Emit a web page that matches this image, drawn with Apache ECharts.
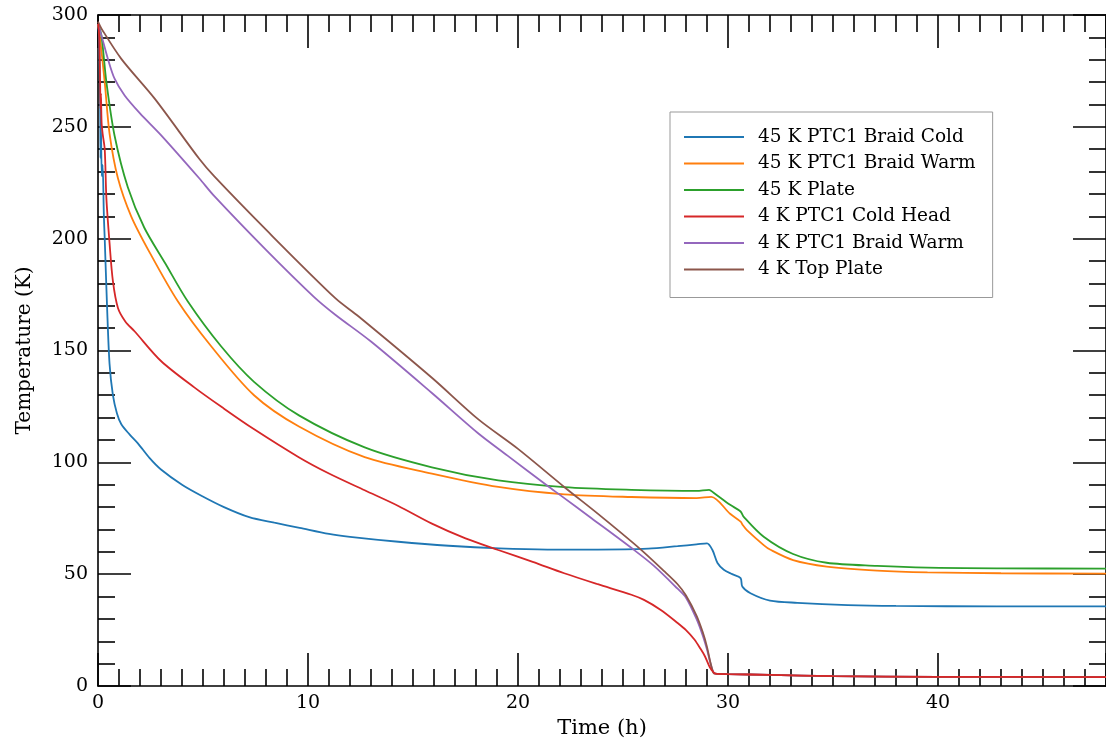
<!DOCTYPE html>
<html>
<head>
<meta charset="utf-8">
<script src="https://cdn.jsdelivr.net/npm/echarts@6/dist/echarts.min.js"></script>
<style>
  html, body { margin: 0; padding: 0; background: #fff; }
  #chart { width: 1106px; height: 744px; }
</style>
</head>
<body>
<div id="chart"></div>
<script>
// [time (h), temperature (K)]
var braidCold45 = [[0,296],[0.05,290],[0.1,262],[0.12,236],[0.14,250],[0.18,228],[0.22,233],[0.28,210],[0.32,200],[0.43,170],[0.55,144],[0.71,130],[0.9,122],[1.11,117],[1.5,112.5],[1.9,108.5],[2.45,102],[3.0,96.8],[4.0,90],[4.9,85.2],[6,80],[7.2,75.5],[8.4,73],[9.6,70.7],[11,68],[12,66.7],[14.3,64.5],[16.7,62.7],[19.1,61.5],[21.4,61],[23.8,61],[26.2,61.4],[27.6,62.5],[28.5,63.3],[29.0,63.8],[29.26,60.8],[29.5,55],[29.8,52],[30.2,50],[30.6,48.2],[30.68,44.5],[31.07,41.5],[32,38.2],[33.3,37.2],[35.7,36.2],[38,35.8],[42.8,35.6],[48,35.6]];
var braidWarm45 = [[0,296],[0.08,291],[0.32,270],[0.55,247],[0.95,227],[1.58,210],[2.45,194],[3.8,172],[5.38,152],[7.43,130],[9.57,116],[12.7,102.3],[15.9,95],[19.06,89],[22.2,85.7],[25.4,84.5],[28.5,84],[29.2,84.6],[30.1,77],[30.6,73.5],[30.7,72],[30.9,69.7],[31.7,63],[32,61],[33.1,56.3],[34.7,53.4],[37.1,51.6],[39.5,50.8],[43,50.4],[48,50.2]];
var plate45 = [[0,296],[0.16,291],[0.4,270],[0.79,246],[1.42,223],[2.2,205],[3.2,189],[4.27,172],[5.85,152],[7.43,136],[9.57,121],[12.7,106.7],[15.9,97.8],[19.06,91.9],[22.2,88.9],[25.4,87.7],[28.5,87.2],[29.1,87.7],[29.3,86.5],[30.1,81],[30.6,78],[30.75,75.6],[31.7,66.7],[33.1,59],[34.7,55.1],[37.1,53.7],[39.5,52.9],[43,52.6],[48,52.5]];
var coldHead4 = [[0,296],[0.05,292],[0.1,270],[0.12,258],[0.14,265],[0.17,252],[0.22,247],[0.32,240],[0.4,218],[0.55,198],[0.71,181],[0.95,169],[1.3,163],[1.74,158.6],[3.0,145.3],[4.6,133.4],[6,124],[7.4,115],[9.56,102.3],[11,95],[12.7,87.5],[14.3,80.5],[15.9,72.6],[17.5,66],[19.06,60.8],[20.7,55.5],[22.2,50.4],[23.8,45.5],[25.4,40.8],[26,38.5],[26.8,34],[27.6,28.2],[28.0,25],[28.4,20.8],[28.7,16.5],[28.9,13.3],[29.1,9],[29.2,7.4],[29.4,5.5],[30,5.3],[32,5],[35,4.4],[40,4.1],[48,4.0]];
var braidWarm4 = [[0,296],[0.16,291],[0.47,280.4],[0.79,271.5],[1.27,264],[2,256],[3.0,246.3],[4.82,227],[5.54,219],[8,195],[10.28,174],[11.3,166],[13,154],[15.9,131],[18.1,113],[19.5,103],[21.4,89.5],[22.06,85],[23.5,75],[25.5,61],[26.5,53.5],[27.6,43.5],[28,39.5],[28.5,30],[28.8,22.5],[29.0,16.3],[29.25,7.4],[29.4,5.5],[30,5.3],[32,5],[35,4.4],[40,4.1],[48,4.0]];
var topPlate4 = [[0,297],[0.16,294],[1.11,280.4],[2.7,262.6],[4.82,235.7],[5.54,227.8],[8,204],[11.3,173.4],[12.4,165.3],[15.9,137.8],[18.1,119.3],[20,106],[22.2,89],[24,75.5],[25.85,61],[27,51],[27.6,45.5],[28,40.5],[28.5,31.5],[28.8,24],[29.0,17.5],[29.15,11],[29.3,6],[29.4,5.5],[30,5.3],[32,5],[35,4.4],[40,4.1],[48,4.0]];

var seriesNames = ['45 K PTC1 Braid Cold', '45 K PTC1 Braid Warm', '45 K Plate',
  '4 K PTC1 Cold Head', '4 K PTC1 Braid Warm', '4 K Top Plate'];
var seriesData = [braidCold45, braidWarm45, plate45, coldHead4, braidWarm4, topPlate4];
var colors = ['#1f77b4', '#ff7f0e', '#2ca02c', '#d62728', '#9467bd', '#8c564b'];

var xTicks = { min: 0, max: 48, interval: 10 };
var yTicks = { min: 0, max: 300, interval: 50 };

var font = 'DejaVu Serif';

function xAxis(pos) {
  return {
    type: 'value', position: pos,
    min: xTicks.min, max: xTicks.max, interval: xTicks.interval,
    axisLine: { show: true, onZero: false, lineStyle: { color: '#000', width: 1.6 } },
    axisTick: { inside: true, length: 33, lineStyle: { color: '#000', width: 1.6 } },
    minorTick: { show: true, splitNumber: 10, length: 17, lineStyle: { color: '#000', width: 1.6 } },
    axisLabel: { show: pos === 'bottom', showMaxLabel: false, color: '#000', fontFamily: font, fontSize: 19, margin: 8 },
    splitLine: { show: false },
    name: pos === 'bottom' ? 'Time (h)' : '',
    nameLocation: 'middle', nameGap: 32,
    nameTextStyle: { color: '#000', fontFamily: font, fontSize: 21 }
  };
}
function yAxis(pos) {
  return {
    type: 'value', position: pos,
    min: yTicks.min, max: yTicks.max, interval: yTicks.interval,
    axisLine: { show: true, onZero: false, lineStyle: { color: '#000', width: 1.6 } },
    axisTick: { inside: true, length: 33, lineStyle: { color: '#000', width: 1.6 } },
    minorTick: { show: true, splitNumber: 5, length: 17, lineStyle: { color: '#000', width: 1.6 } },
    axisLabel: { show: pos === 'left', color: '#000', fontFamily: font, fontSize: 19, margin: 10 },
    splitLine: { show: false },
    name: pos === 'left' ? 'Temperature (K)' : '',
    nameLocation: 'middle', nameGap: 63, nameRotate: 90,
    nameTextStyle: { color: '#000', fontFamily: font, fontSize: 20 }
  };
}

var chart = echarts.init(document.getElementById('chart'));
chart.setOption({
  animation: false,
  backgroundColor: '#fff',
  grid: { left: 98, right: -5, top: 15, bottom: 54 },
  xAxis: [xAxis('bottom'), xAxis('top')],
  yAxis: [yAxis('left'), yAxis('right')],
  legend: {
    orient: 'vertical', left: 670, top: 112,
    padding: [15, 17, 18, 14],
    backgroundColor: '#fff', borderColor: '#999', borderWidth: 1,
    icon: 'rect', itemWidth: 60, itemHeight: 2, itemGap: 6.5,
    textStyle: { color: '#000', fontFamily: font, fontSize: 18.5, lineHeight: 20, padding: [0, 0, 0, 9] },
    data: seriesNames
  },
  series: seriesData.map(function (d, i) {
    return {
      name: seriesNames[i], type: 'line', data: d,
      showSymbol: false, symbol: 'none', smooth: 0.3,
      z: i === 3 ? 4 : 3,
      color: colors[i],
      lineStyle: { width: 1.8, color: colors[i] }
    };
  })
});
</script>
</body>
</html>
